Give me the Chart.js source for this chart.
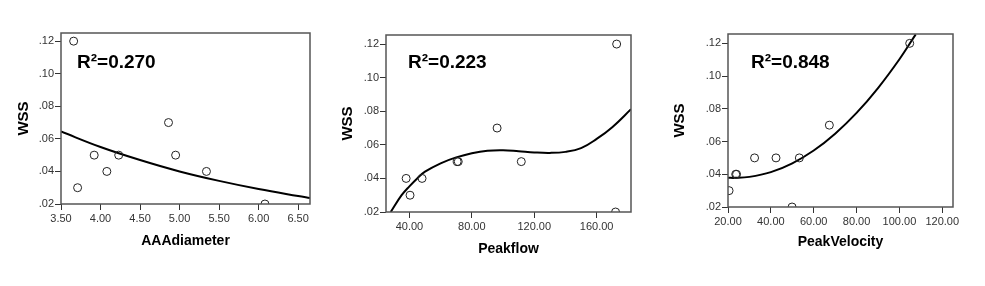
<!DOCTYPE html>
<html>
<head>
<meta charset="utf-8">
<script src="https://cdn.jsdelivr.net/npm/chart.js@4.4.0/dist/chart.umd.min.js"></script>
<style>
html, body { margin: 0; padding: 0; background: #fff; width: 985px; height: 286px; overflow: hidden; }
canvas { position: absolute; top: 0; }
</style>
</head>
<body>
<canvas id="c1" width="330" height="286" style="left:0"></canvas>
<canvas id="c2" width="330" height="286" style="left:330px"></canvas>
<canvas id="c3" width="325" height="286" style="left:660px"></canvas>
<script>
// tick labels
const yTicks = [0.02, 0.04, 0.06, 0.08, 0.10, 0.12];
const diamTicks = [3.5, 4.0, 4.5, 5.0, 5.5, 6.0, 6.5];
const flowTicks = [40, 80, 120, 160];
const velTicks = [20, 40, 60, 80, 100, 120];

// AAAdiameter vs WSS
const diamX = [3.66, 3.71, 3.92, 4.08, 4.23, 4.86, 4.95, 5.34, 6.08];
const diamWss = [0.12, 0.03, 0.05, 0.04, 0.05, 0.07, 0.05, 0.04, 0.02];
const diamFitX = [3.5, 4.0, 4.5, 5.0, 5.5, 6.0, 6.5, 6.65];
const diamFitY = [0.0645, 0.0550, 0.0470, 0.0400, 0.0342, 0.0292, 0.0249, 0.0237];

// Peakflow vs WSS
const flowX = [37.9, 40.4, 48.1, 70.6, 71.3, 96.2, 111.7, 172.8, 172.1];
const flowWss = [0.04, 0.03, 0.04, 0.05, 0.05, 0.07, 0.05, 0.12, 0.02];
const flowFitX = [28, 35, 40, 45, 50, 60, 70, 80, 90, 100, 110, 120, 130, 140, 150, 160, 170, 182];
const flowFitY = [0.020, 0.0300, 0.0353, 0.0400, 0.0440, 0.0490, 0.0525, 0.0550, 0.0565, 0.0568,
                  0.0562, 0.0555, 0.0552, 0.0558, 0.0580, 0.0635, 0.0705, 0.0812];

// PeakVelocity vs WSS
const velX = [20.5, 23.6, 24.0, 32.4, 42.4, 49.9, 53.3, 67.3, 104.8];
const velWss = [0.03, 0.04, 0.04, 0.05, 0.05, 0.02, 0.05, 0.07, 0.12];
const velFitX = [20, 23, 30, 40, 50, 60, 70, 80, 90, 100, 107.6];
const velFitY = [0.0379, 0.0378, 0.0384, 0.0413, 0.0467, 0.0545, 0.0648, 0.0775, 0.0927, 0.1103, 0.1255];

const rSquared = ['R\u00b2=0.270', 'R\u00b2=0.223', 'R\u00b2=0.848'];

const FONT = '"Liberation Sans", Arial, sans-serif';
const pairs = (xs, ys) => xs.map((x, i) => ({ x, y: ys[i] }));

// frame + R² label
const boxPlugin = {
  id: 'box',
  afterDatasetsDraw(chart, args, opts) {
    const { ctx, chartArea: a } = chart;
    ctx.save();
    ctx.strokeStyle = '#555';
    ctx.lineWidth = 1.5;
    ctx.strokeRect(a.left, a.top, a.right - a.left, a.bottom - a.top);
    ctx.font = 'bold 19px ' + FONT;
    ctx.fillStyle = '#000';
    ctx.textBaseline = 'middle';
    ctx.fillText(opts.text, a.left + opts.dx, a.top + opts.dy);
    ctx.restore();
  }
};

const makeChart = (id, p) => {
  new Chart(document.getElementById(id), {
    type: 'scatter',
    data: {
      datasets: [
        {
          data: pairs(p.px, p.py),
          pointRadius: 4,
          pointBorderWidth: 1,
          pointBorderColor: '#222',
          pointBackgroundColor: 'rgba(0,0,0,0)'
        },
        {
          data: pairs(p.fx, p.fy),
          showLine: true,
          pointRadius: 0,
          borderColor: '#000',
          borderWidth: 2,
          tension: 0.4
        }
      ]
    },
    options: {
      responsive: false,
      animation: false,
      layout: { padding: p.pad },
      plugins: {
        legend: { display: false },
        tooltip: { enabled: false },
        box: { text: p.r2, dx: p.r2dx, dy: p.r2dy }
      },
      scales: {
        x: {
          type: 'linear', min: p.xmin, max: p.xmax,
          afterBuildTicks: s => { s.ticks = p.xt.map(v => ({ value: v })); },
          afterFit: s => { s.height = 50; s.paddingLeft = 0; s.paddingRight = 0; },
          border: { display: false },
          grid: { drawOnChartArea: false, drawTicks: true, tickLength: 6, color: '#333' },
          ticks: { padding: 2, color: '#333', font: { family: FONT, size: 11 }, maxRotation: 0,
                   callback: v => v.toFixed(2) },
          title: { display: true, text: p.xTitle, color: '#000', padding: { top: 0, bottom: p.xtp },
                   font: { family: FONT, size: 14, weight: 'bold' } }
        },
        y: {
          type: 'linear', min: 0.02, max: p.ymax,
          afterBuildTicks: s => { s.ticks = yTicks.map(v => ({ value: v })); },
          afterFit: s => { s.width = p.yw; s.paddingTop = 0; s.paddingBottom = 0; },
          border: { display: false },
          grid: { drawOnChartArea: false, drawTicks: true, tickLength: 6, color: '#333' },
          ticks: { padding: 1, color: '#333', font: { family: FONT, size: 11 },
                   callback: v => v.toFixed(2).replace(/^0/, '') },
          title: { display: true, text: 'WSS', color: '#000', padding: { top: p.ytp, bottom: 0 },
                   font: { family: FONT, size: 15, weight: 'bold' } }
        }
      }
    },
    plugins: [boxPlugin]
  });
};

makeChart('c1', {
  px: diamX, py: diamWss, fx: diamFitX, fy: diamFitY, xt: diamTicks,
  xmin: 3.5, xmax: 6.65, ymax: 0.125, xTitle: 'AAAdiameter', r2: rSquared[0],
  pad: { left: 0, right: 20, top: 33, bottom: 32 }, yw: 61, ytp: 15, xtp: 4.5, r2dx: 16, r2dy: 30
});

makeChart('c2', {
  px: flowX, py: flowWss, fx: flowFitX, fy: flowFitY, xt: flowTicks,
  xmin: 25, xmax: 182, ymax: 0.1254, xTitle: 'Peakflow', r2: rSquared[1],
  pad: { left: 0, right: 29, top: 35, bottom: 24 }, yw: 56, ytp: 9, xtp: 4.2, r2dx: 22, r2dy: 28
});

makeChart('c3', {
  px: velX, py: velWss, fx: velFitX, fy: velFitY, xt: velTicks,
  xmin: 20, xmax: 125, ymax: 0.1257, xTitle: 'PeakVelocity', r2: rSquared[2],
  pad: { left: 0, right: 32, top: 34, bottom: 29 }, yw: 68, ytp: 11, xtp: 6.5, r2dx: 23, r2dy: 29
});
</script>
</body>
</html>
